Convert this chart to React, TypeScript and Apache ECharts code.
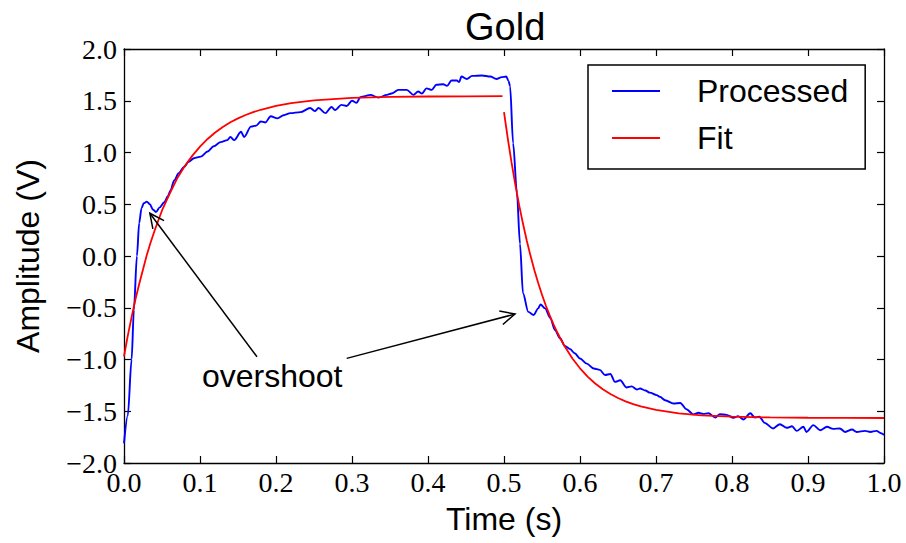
import React, { useEffect, useRef } from "react";
import * as echarts from "echarts";

// Measured signal (time in s, amplitude in V)
const processed: [number, number][] = [
  [0, -1.81], [0.005, -1.54], [0.01, -1.0], [0.013, -0.52], [0.017, 0.0], [0.02, 0.32],
  [0.023, 0.46], [0.026, 0.51], [0.03, 0.525], [0.034, 0.5], [0.038, 0.45], [0.042, 0.425],
  [0.047, 0.47], [0.053, 0.52], [0.058, 0.58], [0.061, 0.63], [0.066, 0.73], [0.072, 0.8],
  [0.079, 0.86], [0.085, 0.91], [0.092, 0.945], [0.101, 0.96], [0.11, 1.01], [0.118, 1.06],
  [0.127, 1.1], [0.136, 1.12], [0.14, 1.15], [0.145, 1.12], [0.154, 1.2], [0.158, 1.15],
  [0.167, 1.25], [0.174, 1.26], [0.18, 1.3], [0.186, 1.29], [0.193, 1.35], [0.202, 1.33],
  [0.21, 1.36], [0.219, 1.38], [0.232, 1.39], [0.245, 1.43], [0.251, 1.4], [0.256, 1.43],
  [0.265, 1.38], [0.273, 1.44], [0.278, 1.41], [0.286, 1.46], [0.293, 1.45], [0.3, 1.5],
  [0.306, 1.48], [0.311, 1.535], [0.317, 1.545], [0.324, 1.557], [0.335, 1.53], [0.346, 1.557],
  [0.352, 1.57], [0.361, 1.605], [0.372, 1.605], [0.381, 1.557], [0.387, 1.59], [0.392, 1.57],
  [0.398, 1.62], [0.405, 1.605], [0.411, 1.654], [0.42, 1.66], [0.425, 1.644], [0.431, 1.695],
  [0.438, 1.695], [0.441, 1.68], [0.444, 1.734], [0.451, 1.71], [0.458, 1.74], [0.471, 1.744],
  [0.482, 1.734], [0.49, 1.71], [0.497, 1.728], [0.503, 1.734], [0.506, 1.69], [0.508, 1.64],
  [0.512, 1.09], [0.517, 0.61], [0.521, 0.12], [0.525, -0.36], [0.532, -0.54], [0.539, -0.57],
  [0.545, -0.506], [0.548, -0.467], [0.554, -0.506], [0.561, -0.6], [0.567, -0.716], [0.574, -0.796],
  [0.58, -0.87], [0.587, -0.9], [0.593, -0.94], [0.6, -0.99], [0.609, -1.04], [0.618, -1.087],
  [0.626, -1.1], [0.633, -1.15], [0.64, -1.14], [0.646, -1.216], [0.653, -1.2], [0.661, -1.27],
  [0.668, -1.26], [0.675, -1.29], [0.679, -1.28], [0.686, -1.3], [0.692, -1.32], [0.701, -1.344],
  [0.705, -1.36], [0.712, -1.393], [0.723, -1.425], [0.732, -1.42], [0.74, -1.48], [0.749, -1.53],
  [0.756, -1.515], [0.762, -1.525], [0.769, -1.52], [0.778, -1.56], [0.784, -1.528], [0.793, -1.535],
  [0.802, -1.564], [0.808, -1.547], [0.815, -1.58], [0.824, -1.52], [0.83, -1.56], [0.836, -1.553],
  [0.843, -1.612], [0.854, -1.666], [0.863, -1.625], [0.872, -1.66], [0.879, -1.645], [0.885, -1.69],
  [0.894, -1.65], [0.898, -1.7], [0.907, -1.634], [0.916, -1.683], [0.925, -1.65], [0.933, -1.67],
  [0.942, -1.666], [0.949, -1.7], [0.958, -1.676], [0.964, -1.7], [0.975, -1.69], [0.982, -1.7],
  [0.99, -1.69], [0.997, -1.715], [1.0, -1.73],
];

// Exponential fit, rising edge
const fitRise: [number, number][] = [
  [0, -0.97], [0.005, -0.77], [0.01, -0.59], [0.015, -0.42], [0.02, -0.27], [0.025, -0.13],
  [0.03, 0.01], [0.035, 0.13], [0.04, 0.24], [0.045, 0.34], [0.05, 0.44], [0.06, 0.6],
  [0.07, 0.75], [0.08, 0.87], [0.09, 0.97], [0.1, 1.057], [0.11, 1.131], [0.12, 1.193],
  [0.13, 1.246], [0.14, 1.292], [0.15, 1.33], [0.16, 1.362], [0.17, 1.39], [0.18, 1.413],
  [0.2, 1.45], [0.22, 1.477], [0.25, 1.503], [0.3, 1.527], [0.35, 1.537], [0.4, 1.541],
  [0.45, 1.543], [0.498, 1.544],
];

// Exponential fit, falling edge
const fitFall: [number, number][] = [
  [0.5, 1.39], [0.505, 1.133], [0.51, 0.899], [0.515, 0.685], [0.52, 0.489], [0.525, 0.311],
  [0.53, 0.148], [0.535, -0.001], [0.54, -0.137], [0.545, -0.261], [0.55, -0.374], [0.555, -0.478],
  [0.56, -0.572], [0.565, -0.659], [0.57, -0.737], [0.575, -0.809], [0.58, -0.875], [0.59, -0.99],
  [0.6, -1.085], [0.61, -1.165], [0.62, -1.232], [0.63, -1.287], [0.64, -1.333], [0.65, -1.372],
  [0.66, -1.404], [0.67, -1.431], [0.68, -1.453], [0.7, -1.487], [0.73, -1.52], [0.76, -1.539],
  [0.8, -1.552], [0.85, -1.56], [0.9, -1.563], [0.95, -1.564], [1.0, -1.565],
];

// Annotation arrows: [tailTime, tailAmp, tipTime, tipAmp]
const overshootArrows: [number, number, number, number][] = [
  [0.175, -0.974, 0.034, 0.413],
  [0.293, -0.989, 0.5145, -0.561],
];
const overshootLabel = "overshoot";
const overshootLabelAt: [number, number][] = [[0.195, -1.16]];

const sans = "Liberation Sans, Arial, Helvetica, sans-serif";
const serif = "Liberation Serif, Times New Roman, serif";

const fmt = (v: number) => v.toFixed(1).replace("-", "\u2212");

export default function App() {
  const ref = useRef<HTMLDivElement>(null);

  useEffect(() => {
    if (!ref.current) return;
    const chart = echarts.init(ref.current, undefined, { renderer: "svg" });

    const axisLine = { show: true, onZero: false, lineStyle: { color: "#000", width: 1.3 } };
    const axisTick = { show: true, inside: true, length: 7, lineStyle: { color: "#000", width: 1.2 } };

    const option: any = {
      animation: false,
      backgroundColor: "#fff",
      title: {
        text: "Gold",
        left: 460,
        top: 3,
        textStyle: { fontSize: 38, fontWeight: "normal", fontFamily: sans, color: "#000" },
      },
      grid: { left: 124, right: 22, top: 49, bottom: 80, containLabel: false },
      legend: {
        data: ["Processed", "Fit"],
        orient: "vertical",
        left: 588,
        top: 65,
        padding: [7, 17, 12, 24],
        icon: "rect",
        itemWidth: 48,
        itemHeight: 2,
        itemGap: 9,
        borderColor: "#000",
        borderWidth: 1.5,
        borderRadius: 0,
        backgroundColor: "#fff",
        textStyle: {
          fontSize: 32,
          fontFamily: sans,
          color: "#000",
          lineHeight: 38,
          padding: [0, 0, 0, 32],
        },
      },
      xAxis: [
        {
          type: "value",
          min: 0,
          max: 1,
          interval: 0.1,
          position: "bottom",
          axisLine,
          axisTick,
          splitLine: { show: false },
          axisLabel: {
            formatter: fmt,
            fontFamily: serif,
            fontSize: 28,
            color: "#000",
            margin: 5,
            showMinLabel: true,
            showMaxLabel: true,
          },
          name: "Time (s)",
          nameLocation: "middle",
          nameGap: 40,
          nameTextStyle: { fontSize: 32, fontFamily: sans, color: "#000" },
        },
        {
          type: "value",
          min: 0,
          max: 1,
          interval: 0.1,
          position: "top",
          axisLine,
          axisTick,
          splitLine: { show: false },
          axisLabel: { show: false },
        },
      ],
      yAxis: [
        {
          type: "value",
          min: -2,
          max: 2,
          interval: 0.5,
          position: "left",
          axisLine,
          axisTick,
          splitLine: { show: false },
          axisLabel: {
            formatter: fmt,
            fontFamily: serif,
            fontSize: 28,
            color: "#000",
            margin: 7,
            showMinLabel: true,
            showMaxLabel: true,
          },
          name: "Amplitude (V)",
          nameLocation: "middle",
          nameGap: 80,
          nameTextStyle: { fontSize: 32, fontFamily: sans, color: "#000" },
        },
        {
          type: "value",
          min: -2,
          max: 2,
          interval: 0.5,
          position: "right",
          axisLine,
          axisTick,
          splitLine: { show: false },
          axisLabel: { show: false },
        },
      ],
      series: [
        {
          name: "Processed",
          type: "line",
          xAxisIndex: 0,
          yAxisIndex: 0,
          data: processed,
          symbol: "none",
          smooth: 0.3,
          smoothMonotone: "x",
          color: "#0000ff",
          lineStyle: { color: "#0000ff", width: 1.9 },
          z: 3,
        },
        {
          name: "Fit",
          type: "line",
          xAxisIndex: 0,
          yAxisIndex: 0,
          data: fitRise,
          symbol: "none",
          smooth: false,
          color: "#ff0000",
          lineStyle: { color: "#ff0000", width: 1.8 },
          z: 4,
        },
        {
          name: "Fit",
          type: "line",
          xAxisIndex: 0,
          yAxisIndex: 0,
          data: fitFall,
          symbol: "none",
          smooth: false,
          color: "#ff0000",
          lineStyle: { color: "#ff0000", width: 1.8 },
          z: 4,
        },
        {
          type: "custom",
          xAxisIndex: 0,
          yAxisIndex: 0,
          data: overshootArrows,
          encode: { x: [0, 2], y: [1, 3] },
          clip: false,
          silent: true,
          z: 6,
          renderItem: (_params: any, api: any) => {
            const a = api.coord([api.value(0), api.value(1)]);
            const b = api.coord([api.value(2), api.value(3)]);
            const ang = Math.atan2(b[1] - a[1], b[0] - a[0]);
            const len = 16;
            const half = 0.45;
            const p1 = [b[0] - len * Math.cos(ang - half), b[1] - len * Math.sin(ang - half)];
            const p2 = [b[0] - len * Math.cos(ang + half), b[1] - len * Math.sin(ang + half)];
            return {
              type: "group",
              children: [
                {
                  type: "line",
                  shape: { x1: a[0], y1: a[1], x2: b[0], y2: b[1] },
                  style: { stroke: "#000", lineWidth: 1.5 },
                },
                {
                  type: "polyline",
                  shape: { points: [p1, b, p2] },
                  style: { stroke: "#000", fill: "none", lineWidth: 1.5 },
                },
              ],
            };
          },
        },
        {
          type: "custom",
          xAxisIndex: 0,
          yAxisIndex: 0,
          data: overshootLabelAt,
          clip: false,
          silent: true,
          z: 6,
          renderItem: (_params: any, api: any) => {
            const p = api.coord([api.value(0), api.value(1)]);
            return {
              type: "text",
              x: p[0],
              y: p[1],
              style: {
                text: overshootLabel,
                fill: "#000",
                fontSize: 32,
                fontFamily: sans,
                align: "center",
                verticalAlign: "middle",
              },
            };
          },
        },
      ],
    };

    chart.setOption(option);
    return () => chart.dispose();
  }, []);

  return (
    <div
      ref={ref}
      style={{ position: "absolute", left: 0, top: 0, width: 906, height: 543 }}
    />
  );
}
